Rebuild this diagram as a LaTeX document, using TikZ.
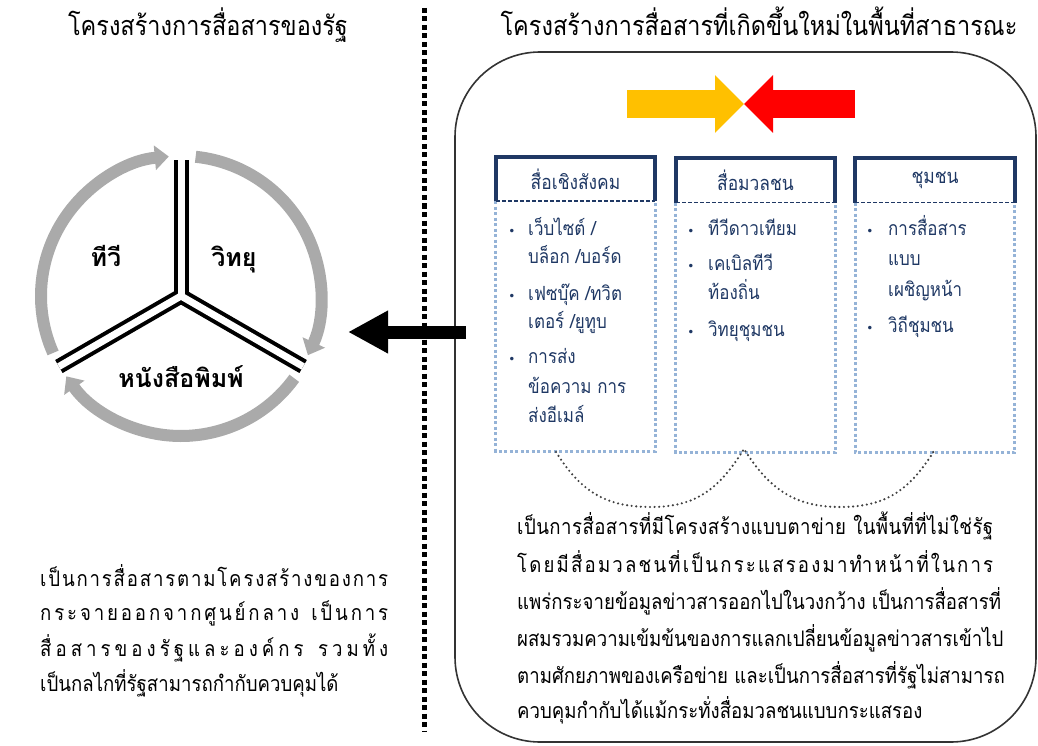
\documentclass[tikz,border=0pt]{standalone}
\usepackage{fontspec}
\setmainfont[Script=Thai,FakeStretch=0.87]{Loma}
\newfontfamily\lblfont[Script=Thai]{Loma}
\newfontfamily\dvs{DejaVu Sans}
\usetikzlibrary{arrows.meta,calc}
\definecolor{navy}{RGB}{31,56,100}
\definecolor{lblue}{RGB}{149,179,215}
\definecolor{ringgray}{RGB}{170,170,170}
\definecolor{ayellow}{RGB}{255,192,0}
\definecolor{ared}{RGB}{255,0,0}
\def\dend{|}
\def\dstart#1 {#1\dnext}
\def\dnext#1 {\def\dtmp{#1}\ifx\dtmp\dend\else\hfil#1\expandafter\dnext\fi}
\tikzset{
  ttl/.style={font=\fontsize{27}{29}\selectfont, anchor=base, inner sep=0},
  lbl/.style={font=\lblfont\fontsize{25}{27}\selectfont\bfseries, anchor=base, inner sep=0},
  hdrtext/.style={font=\fontsize{20}{22}\selectfont, text=navy, inner sep=0, minimum width=159, minimum height=44},
  hdrline/.style={draw=navy, line width=4},
  bodyline/.style={draw=lblue, line width=3, dash pattern=on 3 off 2.5},
  itm/.style={font=\fontsize{19.5}{21}\selectfont, text=navy, anchor=base west, inner sep=0},
  bul/.style={font=\dvs\fontsize{12}{14}\selectfont, text=navy, anchor=base, inner sep=0},
  para/.style={font=\fontsize{21.4}{23}\selectfont, anchor=base west, inner sep=0},
  ring/.style={draw=ringgray, line width=12, -{Triangle[length=14pt,width=24pt]}},
  wave/.style={draw=black!75, line width=2.4, line cap=round, dash pattern=on 0pt off 4.6pt},
}
\begin{document}
\begin{tikzpicture}[x=1pt,y=-1pt]
\useasboundingbox (0,0) rectangle (1038,746);
% titles
\node[ttl] (lt) at (208,36) {โครงสร้างการสื่อสารของรัฐ};
\node[ttl] (rt) at (759,36) {โครงสร้างการสื่อสารที่เกิดขึ้นใหม่ในพื้นที่สาธารณะ};
% separator
\coordinate (vtop) at (424,8);
\coordinate (vbot) at (424,732);
\draw[line width=5, dash pattern=on 5 off 3.5] (vtop) -- (vbot);
% big rounded frame
\draw[black!80, line width=1.6, rounded corners=85] (455,52) rectangle (1036,742);
% circle
\coordinate (C) at (181,296);
\draw[ring] ($(C)+(156:140)$) arc[start angle=156, end angle=265, radius=140];
\draw[ring] ($(C)+(276:140)$) arc[start angle=276, end angle=385, radius=140];
\draw[ring] ($(C)+(36:140)$) arc[start angle=36, end angle=145, radius=140];
\coordinate (aU) at ($(C)+(270:136)$);
\coordinate (aL) at ($(C)+(150:141)$);
\coordinate (aR) at ($(C)+(30:141)$);
\foreach \a in {aU,aL,aR} \draw[line width=15] (C) -- (\a);
\foreach \a in {aU,aL,aR} \draw[white, line width=7] (C) -- (\a);
\node[lbl] (tv) at (106,266) {ทีวี};
\node[lbl] (radio) at (234,266) {วิทยุ};
\node[lbl] (press) at (181,387) {หนังสือพิมพ์};
% black arrow
\coordinate (bkS) at (466,332);
\coordinate (bkE) at (348,332);
\draw[line width=13, -{Triangle[length=40pt,width=40pt]}] (bkS) -- (bkE);
% yellow / red arrows
\coordinate (yS) at (627,104);
\coordinate (mid) at (744,104);
\coordinate (rS) at (855,104);
\draw[ayellow, line width=28, -{Triangle[length=29pt,width=56pt]}] (yS) -- (mid);
\draw[ared, line width=28, -{Triangle[length=29pt,width=56pt]}] (rS) -- (mid);
% boxes
\node[hdrtext] (h1) at (575.5,179) {สื่อเชิงสังคม};
\node[hdrtext] (h2) at (755.5,180.5) {สื่อมวลชน};
\node[hdrtext] (h3) at (935,180.5) {ชุมชน};
\foreach \h in {h1,h2,h3}{
  \draw[bodyline] (\h.south west) -- ++(0,250) -| (\h.south east);
  \draw[hdrline] (\h.south west) |- (\h.north east) -- (\h.south east);
  \draw[navy, line width=1.5, dash pattern=on 4 off 2] (\h.south west) -- (\h.south east);
}
% box 1 items
\node[bul] (d11) at (512,235) {•};
\node[itm] (t11) at (528,235) {เว็บไซต์ /};
\node[itm] (t12) at (528,263) {บล็อก /บอร์ด};
\node[bul] (d12) at (512,300) {•};
\node[itm] (t13) at (528,300) {เฟซบุ๊ค /ทวิต};
\node[itm] (t14) at (528,328) {เตอร์ /ยูทูบ};
\node[bul] (d13) at (512,363) {•};
\node[itm] (t15) at (528,363) {การส่ง};
\node[itm] (t16) at (528,393) {ข้อความ การ};
\node[itm] (t17) at (528,422) {ส่งอีเมล์};
% box 2 items
\node[bul] (d21) at (691,235) {•};
\node[itm] (t21) at (708,235) {ทีวีดาวเทียม};
\node[bul] (d22) at (691,270) {•};
\node[itm] (t22) at (708,270) {เคเบิลทีวี};
\node[itm] (t23) at (708,299) {ท้องถิ่น};
\node[bul] (d23) at (691,336) {•};
\node[itm] (t24) at (708,336) {วิทยุชุมชน};
% box 3 items
\node[bul] (d31) at (870,235) {•};
\node[itm] (t31) at (888,235) {การสื่อสาร};
\node[itm] (t32) at (888,265) {แบบ};
\node[itm] (t33) at (888,296) {เผชิญหน้า};
\node[bul] (d32) at (870,332) {•};
\node[itm] (t34) at (888,332) {วิถีชุมชน};
% dotted wave
\coordinate (w0) at (556,452);
\coordinate (w1) at (651,507);
\coordinate (w2) at (744,449);
\coordinate (w3) at (840,507);
\coordinate (w4) at (934,451);
\draw[wave] (w0) .. controls +(25,40) and +(-45,0) .. (w1) .. controls +(45,0) and +(-25,40) .. (w2)
  .. controls +(25,40) and +(-45,0) .. (w3) .. controls +(45,0) and +(-25,40) .. (w4);
% right paragraph
\node[para] (p1) at (517,534) {\hbox to 476pt{\dstart เ ป็ น ก า ร สื่ อ ส า ร ที่ มี โ ค ร ง ส ร้ า ง แ บ บ ต า ข่ า ย {\ } ใ น พื้ น ที่ ที่ ไ ม่ ใ ช่ รั ฐ | }};
\node[para] (p2) at (517,572) {\hbox to 476pt{\dstart โ ด ย มี สื่ อ ม ว ล ช น ที่ เ ป็ น ก ร ะ แ ส ร อ ง ม า ทำ ห น้ า ที่ ใ น ก า ร | }};
\node[para] (p3) at (517,609) {แพร่กระจายข้อมูลข่าวสารออกไปในวงกว้าง เป็นการสื่อสารที่};
\node[para] (p4) at (517,646) {ผสมรวมความเข้มข้นของการแลกเปลี่ยนข้อมูลข่าวสารเข้าไป};
\node[para] (p5) at (517,683) {ตามศักยภาพของเครือข่าย และเป็นการสื่อสารที่รัฐไม่สามารถ};
\node[para] (p6) at (517,718) {ควบคุมกำกับได้แม้กระทั่งสื่อมวลชนแบบกระแสรอง};
% left paragraph
\node[para] (q1) at (40,586) {\hbox to 348pt{\dstart เ ป็ น ก า ร สื่ อ ส า ร ต า ม โ ค ร ง ส ร้ า ง ข อ ง ก า ร | }};
\node[para] (q2) at (40,620) {\hbox to 348pt{\dstart ก ร ะ จ า ย อ อ ก จ า ก ศู น ย์ ก ล า ง {\ } เ ป็ น ก า ร | }};
\node[para] (q3) at (40,656) {\hbox to 348pt{\dstart สื่ อ ส า ร ข อ ง รั ฐ แ ล ะ อ ง ค์ ก ร {\ } ร ว ม ทั้ ง | }};
\node[para] (q4) at (40,691) {เป็นกลไกที่รัฐสามารถกำกับควบคุมได้};
\end{tikzpicture}
\end{document}
